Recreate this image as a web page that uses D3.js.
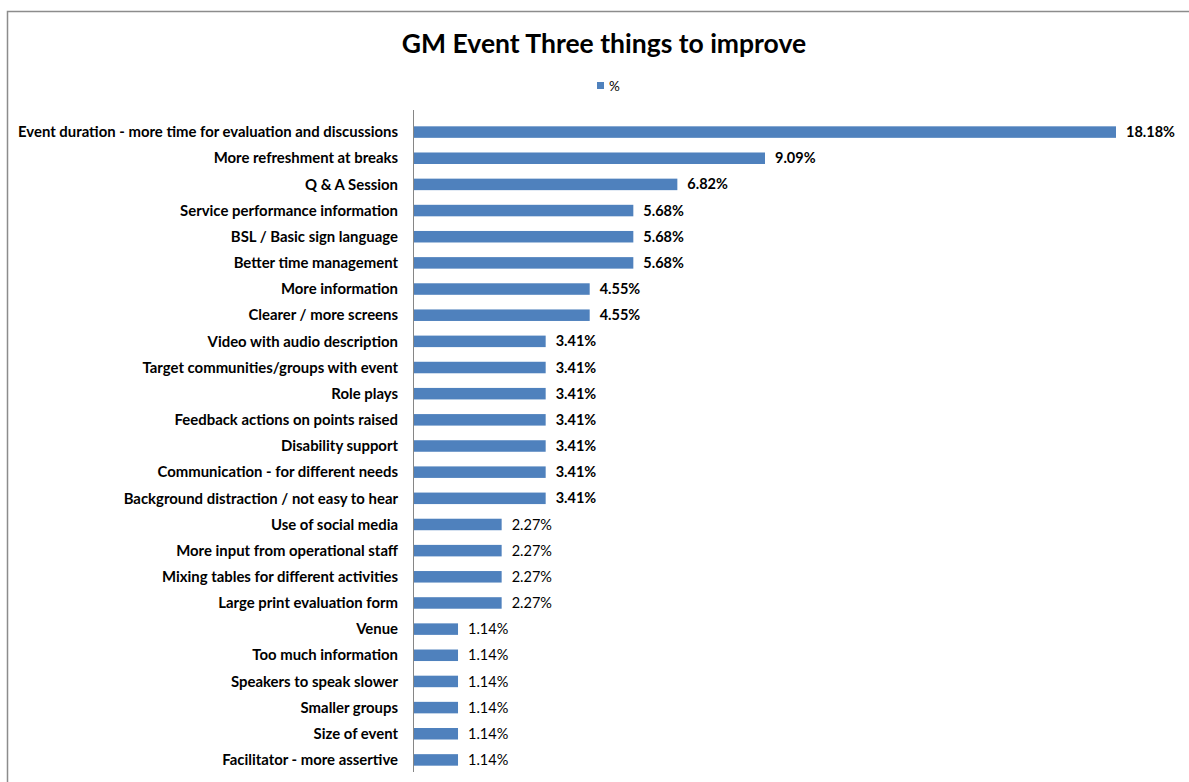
<!DOCTYPE html>
<html><head><meta charset="utf-8">
<script src="https://cdn.jsdelivr.net/npm/d3@7"></script>
<style>body{margin:0;background:#fff}svg{display:block}</style>
</head><body>
<svg id="c" width="1189" height="782"></svg>
<script>
const categories = [
"Event duration - more time for evaluation and discussions",
"More refreshment at breaks",
"Q & A Session",
"Service performance information",
"BSL / Basic sign language",
"Better time management",
"More information",
"Clearer / more screens",
"Video with audio description",
"Target communities/groups with event",
"Role plays",
"Feedback actions on points raised",
"Disability support",
"Communication - for different needs",
"Background distraction / not easy to hear",
"Use of social media",
"More input from operational staff",
"Mixing tables for different activities",
"Large print evaluation form ",
"Venue",
"Too much information",
"Speakers to speak slower",
"Smaller groups",
"Size of event",
"Facilitator - more assertive"];
const values = [18.18,9.09,6.82,5.68,5.68,5.68,4.55,4.55,3.41,3.41,3.41,3.41,3.41,3.41,3.41,2.27,2.27,2.27,2.27,1.14,1.14,1.14,1.14,1.14,1.14];
const seriesName = "%";
const title = "GM Event Three things to improve";

const svg = d3.select("#c");
const font = "Lato, 'Open Sans', sans-serif";
// outer border
svg.append("path").attr("d","M7.5,782 V11.5 H1189").attr("fill","none").attr("stroke","#8c8c8c").attr("stroke-width",1.5);

svg.append("text").attr("x",604).attr("y",53).attr("text-anchor","middle")
  .attr("font-family",font).attr("font-weight","bold").attr("font-size",26.5).attr("fill","#000").text(title);
svg.append("rect").attr("x",597).attr("y",82).attr("width",7).attr("height",7).attr("fill","#4F81BD");
svg.append("text").attr("x",609).attr("y",91).attr("font-family",font).attr("font-size",13.5).attr("fill","#000").text(seriesName);

const x0 = 414, x1 = 1116;
const x = d3.scaleLinear().domain([0, d3.max(values)]).range([x0, x1]);
const y = d3.scaleBand().domain(categories).range([119, 773]).paddingInner(0.56).paddingOuter(0.28);

svg.selectAll("rect.bar").data(values).join("rect").attr("class","bar")
  .attr("x", x0).attr("y",(d,i)=>y(categories[i])).attr("width",d=>x(d)-x0).attr("height",y.bandwidth())
  .attr("fill","#4F81BD");

svg.append("line").attr("x1",x0-0.5).attr("x2",x0-0.5).attr("y1",110).attr("y2",772).attr("stroke","#868686");

svg.selectAll("text.cat").data(categories).join("text").attr("class","cat")
  .attr("x",398).attr("y",d=>y(d)+y.bandwidth()/2).attr("dy","0.35em").attr("text-anchor","end")
  .attr("font-family",font).attr("font-weight","bold").attr("font-size",14.9).attr("fill","#000").text(d=>d);

svg.selectAll("text.val").data(values).join("text").attr("class","val")
  .attr("x",d=>x(d)+10).attr("y",(d,i)=>y(categories[i])+y.bandwidth()/2).attr("dy","0.35em")
  .attr("font-family",font).attr("font-weight",d=>d>=3?"bold":"normal").attr("font-size",14.5).attr("fill","#000")
  .text(d=>d.toFixed(2)+"%");
</script>
</body></html>
